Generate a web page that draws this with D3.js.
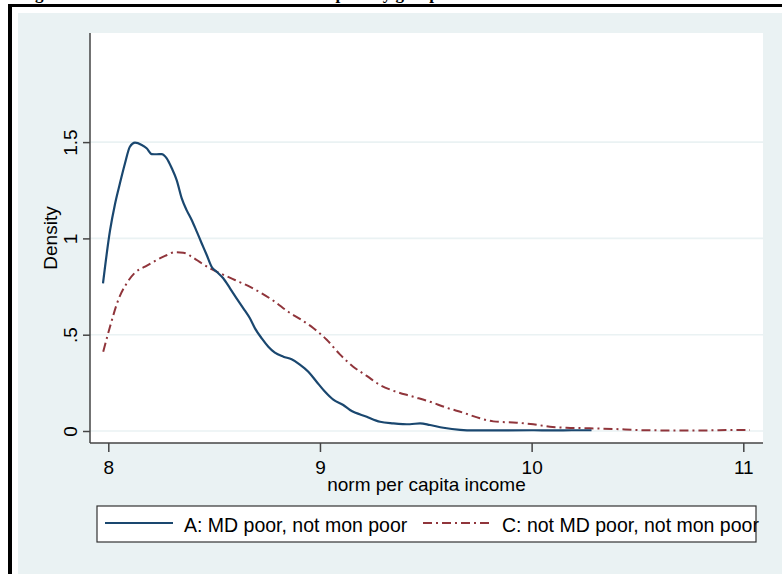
<!DOCTYPE html>
<html>
<head>
<meta charset="utf-8">
<script src="https://cdn.jsdelivr.net/npm/d3@7"></script>
<style>
  body { margin: 0; background: #fff; }
  svg { display: block; }
  text { font-family: "Liberation Sans", Arial, sans-serif; fill: #000; }
</style>
</head>
<body>
<svg id="chart" width="782" height="574"></svg>
<script>
// group A: MD poor, not mon poor
var incomeA = [7.975, 8.008, 8.032, 8.055, 8.079, 8.102, 8.126, 8.158, 8.181, 8.205,
               8.229, 8.252, 8.276, 8.300, 8.323, 8.347, 8.370, 8.394, 8.418, 8.441,
               8.465, 8.488, 8.512, 8.543, 8.575, 8.606, 8.638, 8.669, 8.693, 8.725,
               8.756, 8.787, 8.827, 8.866, 8.905, 8.945, 8.984, 9.024, 9.063, 9.110,
               9.142, 9.221, 9.284, 9.347, 9.425, 9.473, 9.520, 9.583, 9.662, 9.725,
               9.85, 10.0, 10.1, 10.2, 10.283];
var densityA = [0.767, 1.04, 1.18, 1.286, 1.39, 1.476, 1.497, 1.485, 1.468, 1.438,
                1.437, 1.438, 1.416, 1.364, 1.303, 1.208, 1.147, 1.096, 1.035, 0.975,
                0.914, 0.853, 0.827, 0.793, 0.741, 0.689, 0.637, 0.585, 0.533, 0.481,
                0.438, 0.407, 0.386, 0.372, 0.345, 0.308, 0.256, 0.204, 0.163, 0.135,
                0.109, 0.074, 0.048, 0.040, 0.035, 0.040, 0.031, 0.017, 0.006, 0.003,
                0.003, 0.004, 0.003, 0.004, 0.004];

// group C: not MD poor, not mon poor
var incomeC = [7.976, 8.008, 8.047, 8.087, 8.126, 8.173, 8.221, 8.268, 8.315, 8.354,
               8.394, 8.441, 8.488, 8.536, 8.598, 8.661, 8.725, 8.787, 8.850, 8.905,
               8.968, 9.032, 9.094, 9.157, 9.221, 9.283, 9.346, 9.441, 9.520, 9.598,
               9.677, 9.756, 9.819, 9.929, 10.008, 10.086, 10.165, 10.275, 10.40, 10.50,
               10.65, 10.80, 10.95, 11.031];
var densityC = [0.412, 0.541, 0.680, 0.767, 0.822, 0.853, 0.883, 0.909, 0.928, 0.926,
                0.905, 0.871, 0.840, 0.815, 0.784, 0.753, 0.715, 0.671, 0.619, 0.582,
                0.535, 0.474, 0.398, 0.334, 0.286, 0.239, 0.209, 0.178, 0.152, 0.121,
                0.095, 0.066, 0.050, 0.043, 0.035, 0.022, 0.017, 0.014, 0.010, 0.005,
                0.003, 0.003, 0.005, 0.005];

var xTicks = [8, 9, 10, 11];
var yTicks = [0, 0.5, 1, 1.5];
var yTickLabels = ['0', '.5', '1', '1.5'];
var legendLabels = ['A: MD poor, not mon poor', 'C: not MD poor, not mon poor'];

var svg = d3.select('#chart');

var bg = '#eaf2f3',
    navy = '#1a476f',
    maroon = '#90353b';

// page frame (cropped document)
svg.append('rect').attr('x', 8).attr('y', 4).attr('width', 4).attr('height', 570).attr('fill', '#000');
svg.append('rect').attr('x', 8).attr('y', 4).attr('width', 774).attr('height', 3).attr('fill', '#000');

// cut-off caption above the graph
svg.append('text')
    .attr('x', 20)
    .attr('y', -1)
    .style('font-family', '"Liberation Serif", "Times New Roman", serif')
    .style('font-weight', 'bold')
    .style('font-size', '17px')
    .text('Figure 3: Distribution of income within the poverty groups');

// graph region
svg.append('rect').attr('x', 18).attr('y', 13).attr('width', 764).attr('height', 561).attr('fill', bg);

var plot = {left: 90, right: 763, top: 33, bottom: 443};
svg.append('rect')
    .attr('x', plot.left).attr('y', plot.top)
    .attr('width', plot.right - plot.left).attr('height', plot.bottom - plot.top)
    .attr('fill', '#fff');

var x = d3.scaleLinear().domain([8, 11]).range([108.3, 743.3]);
var y = d3.scaleLinear().domain([0, 1.5]).range([431, 142.1]);

// grid
svg.append('g').selectAll('line')
    .data(yTicks)
  .enter().append('line')
    .attr('x1', plot.left).attr('x2', plot.right)
    .attr('y1', function(d) { return y(d); })
    .attr('y2', function(d) { return y(d); })
    .style('stroke', bg)
    .style('stroke-width', 1.6);

// y axis
var yAxis = svg.append('g')
    .attr('transform', 'translate(' + plot.left + ',0)')
    .call(d3.axisLeft(y).tickValues(yTicks).tickSize(7)
      .tickFormat(function(d, i) { return yTickLabels[i]; }));
yAxis.select('.domain').attr('d', 'M0,' + plot.top + 'V' + plot.bottom);
yAxis.selectAll('text')
    .attr('x', 0).attr('dy', 0).attr('y', 0)
    .attr('transform', 'translate(-13,0) rotate(-90)')
    .attr('text-anchor', 'middle')
    .style('font-size', '19px')
    .style('font-family', '"Liberation Sans", Arial, sans-serif');

// x axis
var xAxis = svg.append('g')
    .attr('transform', 'translate(0,' + plot.bottom + ')')
    .call(d3.axisBottom(x).tickValues(xTicks).tickSize(9).tickFormat(d3.format('d')));
xAxis.select('.domain').attr('d', 'M' + plot.left + ',0H' + plot.right);
xAxis.selectAll('text')
    .attr('y', 31).attr('dy', 0)
    .style('font-size', '19px')
    .style('font-family', '"Liberation Sans", Arial, sans-serif');

svg.selectAll('.domain, .tick line')
    .style('stroke', '#444')
    .style('stroke-width', 1.5);

// axis titles
svg.append('text')
    .attr('transform', 'translate(57,' + (plot.top + plot.bottom) / 2 + ') rotate(-90)')
    .attr('text-anchor', 'middle')
    .style('font-size', '19px')
    .text('Density');

svg.append('text')
    .attr('x', (plot.left + plot.right) / 2)
    .attr('y', 491)
    .attr('text-anchor', 'middle')
    .style('font-size', '19px')
    .text('norm per capita income');

// density curves
var line = d3.line()
    .x(function(d) { return x(d[0]); })
    .y(function(d) { return y(d[1]); })
    .curve(d3.curveMonotoneX);

svg.append('path')
    .datum(d3.zip(incomeC, densityC))
    .attr('d', line)
    .style('fill', 'none')
    .style('stroke', maroon)
    .style('stroke-width', 2)
    .style('stroke-dasharray', '9,4,2,4');

svg.append('path')
    .datum(d3.zip(incomeA, densityA))
    .attr('d', line)
    .style('fill', 'none')
    .style('stroke', navy)
    .style('stroke-width', 2.2);

// legend
var legend = svg.append('g');
legend.append('rect')
    .attr('x', 97).attr('y', 506).attr('width', 659).attr('height', 36)
    .style('fill', '#fff')
    .style('stroke', '#333')
    .style('stroke-width', 1.2);

legend.append('line')
    .attr('x1', 105).attr('x2', 173).attr('y1', 523).attr('y2', 523)
    .style('stroke', navy).style('stroke-width', 2);
legend.append('text')
    .attr('x', 184).attr('y', 532)
    .style('font-size', '19.5px')
    .text(legendLabels[0]);

legend.append('line')
    .attr('x1', 423).attr('x2', 492).attr('y1', 523).attr('y2', 523)
    .style('stroke', maroon).style('stroke-width', 2)
    .style('stroke-dasharray', '9,4,2,4');
legend.append('text')
    .attr('x', 502).attr('y', 532)
    .style('font-size', '19.5px')
    .text(legendLabels[1]);
</script>
</body>
</html>
